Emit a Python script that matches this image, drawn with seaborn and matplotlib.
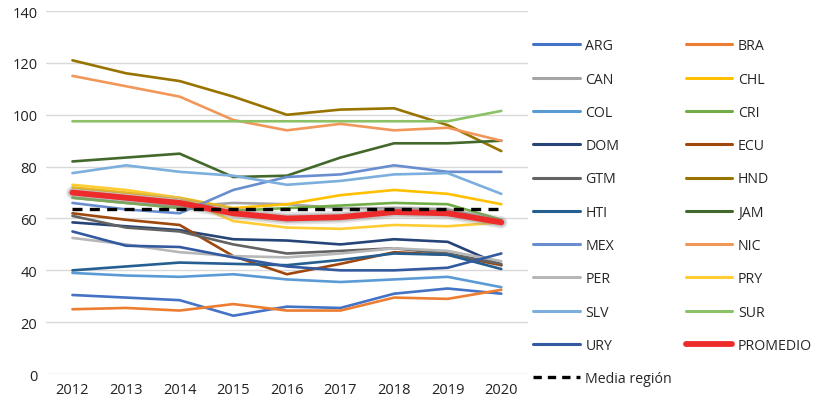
import matplotlib
matplotlib.use("Agg")
import matplotlib.pyplot as plt
import matplotlib.patheffects as pe
from matplotlib.lines import Line2D
import seaborn as sns
import pandas as pd

# Data
years = [2012, 2013, 2014, 2015, 2016, 2017, 2018, 2019, 2020]

ARG = [30.5, 29.5, 28.5, 22.5, 26, 25.5, 31, 33, 31]
BRA = [25, 25.5, 24.5, 27, 24.5, 24.5, 29.5, 29, 32.5]
CAN = [68, 66, 64.5, 66, 65.5, 64, 64, 63.5, 59]
CHL = [72, 70, 68, 64, 65.5, 69, 71, 69.5, 65.5]
COL = [39, 38, 37.5, 38.5, 36.5, 35.5, 36.5, 37.5, 33.5]
CRI = [68, 66, 64, 63, 64, 65, 66, 65.5, 59.5]
DOM = [58.5, 57, 55.5, 52, 51.5, 50, 52, 51, 42]
ECU = [62, 59.5, 57.5, 45.5, 38.5, 42.5, 47, 46, 42]
GTM = [61, 56.5, 55, 50, 46.5, 47.5, 48.5, 46.5, 42.5]
HND = [121, 116, 113, 107, 100, 102, 102.5, 96, 86]
HTI = [40, 41.5, 43, 42.5, 42, 44, 46.5, 46, 40.5]
JAM = [82, 83.5, 85, 76, 76.5, 83.5, 89, 89, 90]
MEX = [66, 63.5, 62, 71, 76, 77, 80.5, 78, 78]
NIC = [115, 111, 107, 98, 94, 96.5, 94, 95, 90]
PER = [52.5, 50, 47, 45.5, 45, 46.5, 48.5, 47.5, 43.5]
PRY = [73, 71, 68, 59, 56.5, 56, 57.5, 57, 58.5]
SLV = [77.5, 80.5, 78, 76.5, 73, 74.5, 77, 77.5, 69.5]
SUR = [97.5, 97.5, 97.5, 97.5, 97.5, 97.5, 97.5, 97.5, 101.5]
URY = [55, 49.5, 49, 45, 41.5, 40, 40, 41, 46.5]
PROMEDIO = [70, 68, 66, 62, 60, 60.5, 62.5, 62, 58.5]
media_region = 63.6

series = {
    "ARG": ARG, "BRA": BRA, "CAN": CAN, "CHL": CHL, "COL": COL, "CRI": CRI,
    "DOM": DOM, "ECU": ECU, "GTM": GTM, "HND": HND, "HTI": HTI, "JAM": JAM,
    "MEX": MEX, "NIC": NIC, "PER": PER, "PRY": PRY, "SLV": SLV, "SUR": SUR,
    "URY": URY,
}
colors = {
    "ARG": "#4472C4", "BRA": "#ED7D31", "CAN": "#A5A5A5", "CHL": "#FFC000",
    "COL": "#5B9BD5", "CRI": "#70AD47", "DOM": "#264478", "ECU": "#9E480E",
    "GTM": "#636363", "HND": "#997300", "HTI": "#255E91", "JAM": "#43682B",
    "MEX": "#698ED0", "NIC": "#F1975A", "PER": "#B7B7B7", "PRY": "#FFCD33",
    "SLV": "#7CAFDD", "SUR": "#8CC168", "URY": "#335AA1",
}

df = pd.DataFrame([(c, y, v) for c, vals in series.items() for y, v in zip(years, vals)],
                  columns=["pais", "anio", "valor"])

sns.set_style("white")
plt.rcParams["font.family"] = ["Open Sans", "DejaVu Sans"]

fig = plt.figure(figsize=(8.15, 4.02), dpi=100)
ax = fig.add_axes([0.056, 0.067, 0.592, 0.903])

sns.lineplot(data=df, x="anio", y="valor", hue="pais", palette=colors,
             linewidth=1.9, legend=False, ax=ax)

# average with soft shadow
ax.plot(years, PROMEDIO, color="#EE2B2B", linewidth=4.2, solid_capstyle="round",
        zorder=5, path_effects=[pe.Stroke(linewidth=9, foreground="#999999", alpha=0.25),
                                pe.Stroke(linewidth=6.5, foreground="#888888", alpha=0.35),
                                pe.Normal()])
ax.plot(years, [media_region] * len(years), color="black", linewidth=2.4,
        dashes=(3, 2.2), zorder=6)

ax.set_xlim(2011.5, 2020.5)
ax.set_ylim(0, 140)
ax.set_yticks(range(0, 141, 20))
ax.set_xticks(years)
ax.set_xlabel("")
ax.set_ylabel("")
ax.grid(axis="y", color="#d9d9d9", linewidth=1)
ax.grid(axis="x", visible=False)
for s in ax.spines.values():
    s.set_visible(False)
ax.tick_params(axis="both", length=0, labelsize=10.5, colors="#222222", pad=6)

# legend (column-wise order to get row layout of the original)
col1 = ["ARG", "CAN", "COL", "DOM", "GTM", "HTI", "MEX", "PER", "SLV", "URY"]
col2 = ["BRA", "CHL", "CRI", "ECU", "HND", "JAM", "NIC", "PRY", "SUR"]
handles, labels = [], []
for c in col1:
    handles.append(Line2D([], [], color=colors[c], linewidth=2.2, solid_capstyle="round"))
    labels.append(c)
handles.append(Line2D([], [], color="black", linewidth=2.4, dashes=(2.5, 1.8)))
labels.append("Media región")
for c in col2:
    handles.append(Line2D([], [], color=colors[c], linewidth=2.2, solid_capstyle="round"))
    labels.append(c)
handles.append(Line2D([], [], color="#EE2B2B", linewidth=4.2, solid_capstyle="round"))
labels.append("PROMEDIO")

fig.legend(handles, labels, ncol=2, loc="upper left", bbox_to_anchor=(0.654, 0.902),
           frameon=False, fontsize=10.2, handlelength=3.3, handletextpad=0.4,
           labelspacing=1.29, columnspacing=0.95, borderpad=0, borderaxespad=0)

fig.savefig("out.png", dpi=100)
